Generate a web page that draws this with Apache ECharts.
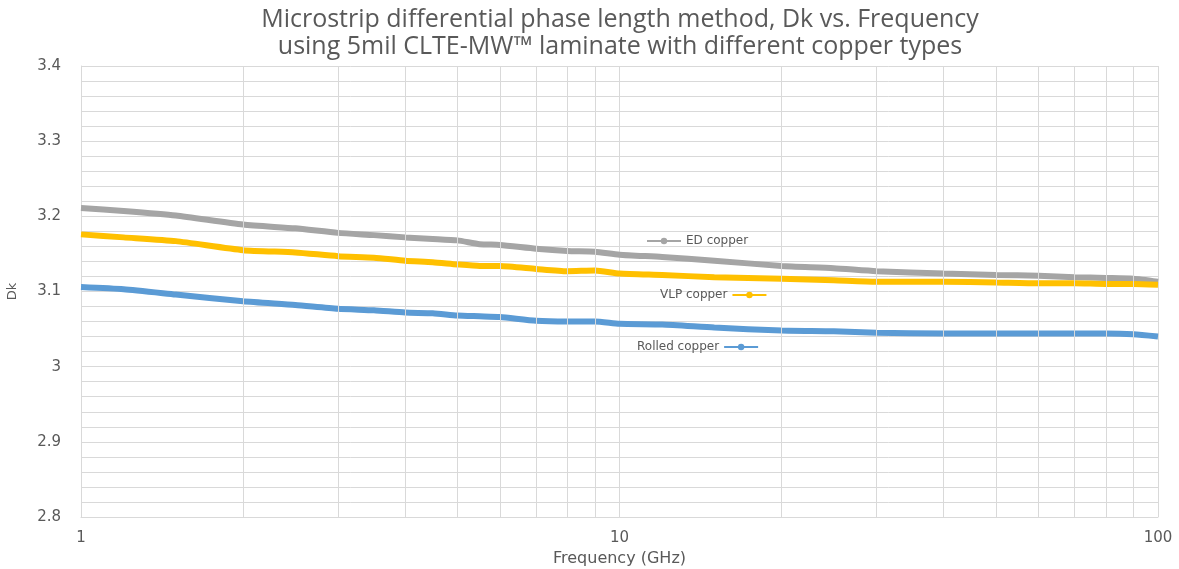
<!DOCTYPE html>
<html>
<head>
<meta charset="utf-8">
<script src="https://cdn.jsdelivr.net/npm/echarts@6/dist/echarts.min.js"></script>
<style>
  html, body { margin: 0; padding: 0; background: #fff; }
  #chart { width: 1179px; height: 569px; }
</style>
</head>
<body>
<div id="chart"></div>
<script>
// frequency points (GHz)
const freqs = [1, 1.2, 1.5, 2, 2.5, 3, 3.5, 4, 4.5, 5, 5.5, 6, 7, 8, 9, 10,
  12, 15, 20, 25, 30, 40, 50, 60, 70, 80, 90, 100];

const edCopper = [3.211, 3.207, 3.201, 3.189, 3.184, 3.178, 3.175, 3.172, 3.170, 3.168,
  3.163, 3.162, 3.157, 3.154, 3.153, 3.149, 3.146, 3.141, 3.134, 3.131, 3.127, 3.124,
  3.122, 3.121, 3.119, 3.118, 3.117, 3.113];

const vlpCopper = [3.176, 3.172, 3.167, 3.155, 3.152, 3.147, 3.145, 3.141, 3.139, 3.136,
  3.134, 3.134, 3.130, 3.127, 3.128, 3.124, 3.122, 3.119, 3.117, 3.115, 3.113, 3.113,
  3.112, 3.111, 3.111, 3.110, 3.110, 3.109];

const rolledCopper = [3.106, 3.103, 3.096, 3.087, 3.082, 3.077, 3.075, 3.072, 3.071, 3.068,
  3.067, 3.066, 3.061, 3.060, 3.060, 3.057, 3.056, 3.052, 3.048, 3.047, 3.045, 3.044,
  3.044, 3.044, 3.044, 3.044, 3.043, 3.040];

// minor vertical grid lines on the log axis
const minorFreqs = [2, 3, 4, 5, 6, 7, 8, 9, 20, 30, 40, 50, 60, 70, 80, 90];

const gridColor = '#d9d9d9';
const textColor = '#595959';
const font = 'DejaVu Sans';

function pairs(vals) {
  return freqs.map((f, i) => [f, vals[i]]);
}

function lineSeries(name, color, vals) {
  return {
    name: name,
    type: 'line',
    data: pairs(vals),
    symbol: 'circle',
    symbolSize: 7,
    showSymbol: false,
    smooth: 0.2,
    lineStyle: { color: color, width: 6 },
    itemStyle: { color: color },
    z: 3
  };
}

const chart = echarts.init(document.getElementById('chart'));

chart.setOption({
  backgroundColor: '#fff',
  animation: false,
  title: {
    text: 'Microstrip differential phase length method, Dk vs. Frequency\nusing 5mil CLTE-MW™ laminate with different copper types',
    left: 615,
    textAlign: 'center',
    top: 1,
    textStyle: {
      fontFamily: 'Open Sans',
      fontWeight: 'normal',
      fontSize: 25,
      lineHeight: 27,
      color: textColor
    }
  },
  legend: [
    {
      data: ['ED copper'],
      left: 641, top: 230,
      itemWidth: 34, itemHeight: 8,
      textStyle: { fontFamily: font, fontSize: 12, color: textColor }
    },
    {
      data: ['VLP copper'],
      align: 'right',
      left: 655, top: 284,
      itemWidth: 34, itemHeight: 8,
      textStyle: { fontFamily: font, fontSize: 12, color: textColor }
    },
    {
      data: ['Rolled copper'],
      align: 'right',
      left: 632, top: 336,
      itemWidth: 34, itemHeight: 8,
      textStyle: { fontFamily: font, fontSize: 12, color: textColor }
    }
  ],
  grid: { left: 81, right: 21, top: 66, bottom: 52, outerBoundsMode: 'none' },
  xAxis: {
    type: 'log',
    logBase: 10,
    min: 1,
    max: 100,
    name: 'Frequency (GHz)',
    nameLocation: 'middle',
    nameGap: 34,
    nameTextStyle: { fontFamily: font, fontSize: 16, color: textColor },
    axisLine: { show: true, lineStyle: { color: gridColor } },
    axisTick: { show: false },
    axisLabel: { fontFamily: font, fontSize: 15, color: textColor, margin: 14 },
    splitLine: { show: true, lineStyle: { color: gridColor, width: 1 } }
  },
  yAxis: {
    type: 'value',
    min: 2.8,
    max: 3.4,
    interval: 0.1,
    name: 'Dk',
    nameLocation: 'middle',
    nameGap: 62,
    nameTextStyle: { fontFamily: font, fontSize: 13, color: textColor },
    axisLine: { show: true, lineStyle: { color: gridColor } },
    axisTick: { show: false },
    axisLabel: { fontFamily: font, fontSize: 15, color: textColor, margin: 20 },
    splitLine: { show: true, lineStyle: { color: gridColor, width: 1 } },
    minorTick: { show: false, splitNumber: 5 },
    minorSplitLine: { show: true, lineStyle: { color: gridColor, width: 1 } }
  },
  series: [
    lineSeries('ED copper', '#a5a5a5', edCopper),
    lineSeries('VLP copper', '#ffc000', vlpCopper),
    lineSeries('Rolled copper', '#5b9bd5', rolledCopper),
    {
      name: 'minor grid',
      type: 'line',
      data: [],
      silent: true,
      z: 1,
      markLine: {
        silent: true,
        symbol: 'none',
        label: { show: false },
        lineStyle: { color: gridColor, width: 1, type: 'solid' },
        data: minorFreqs.map(f => ({ xAxis: f }))
      }
    }
  ]
});
</script>
</body>
</html>
